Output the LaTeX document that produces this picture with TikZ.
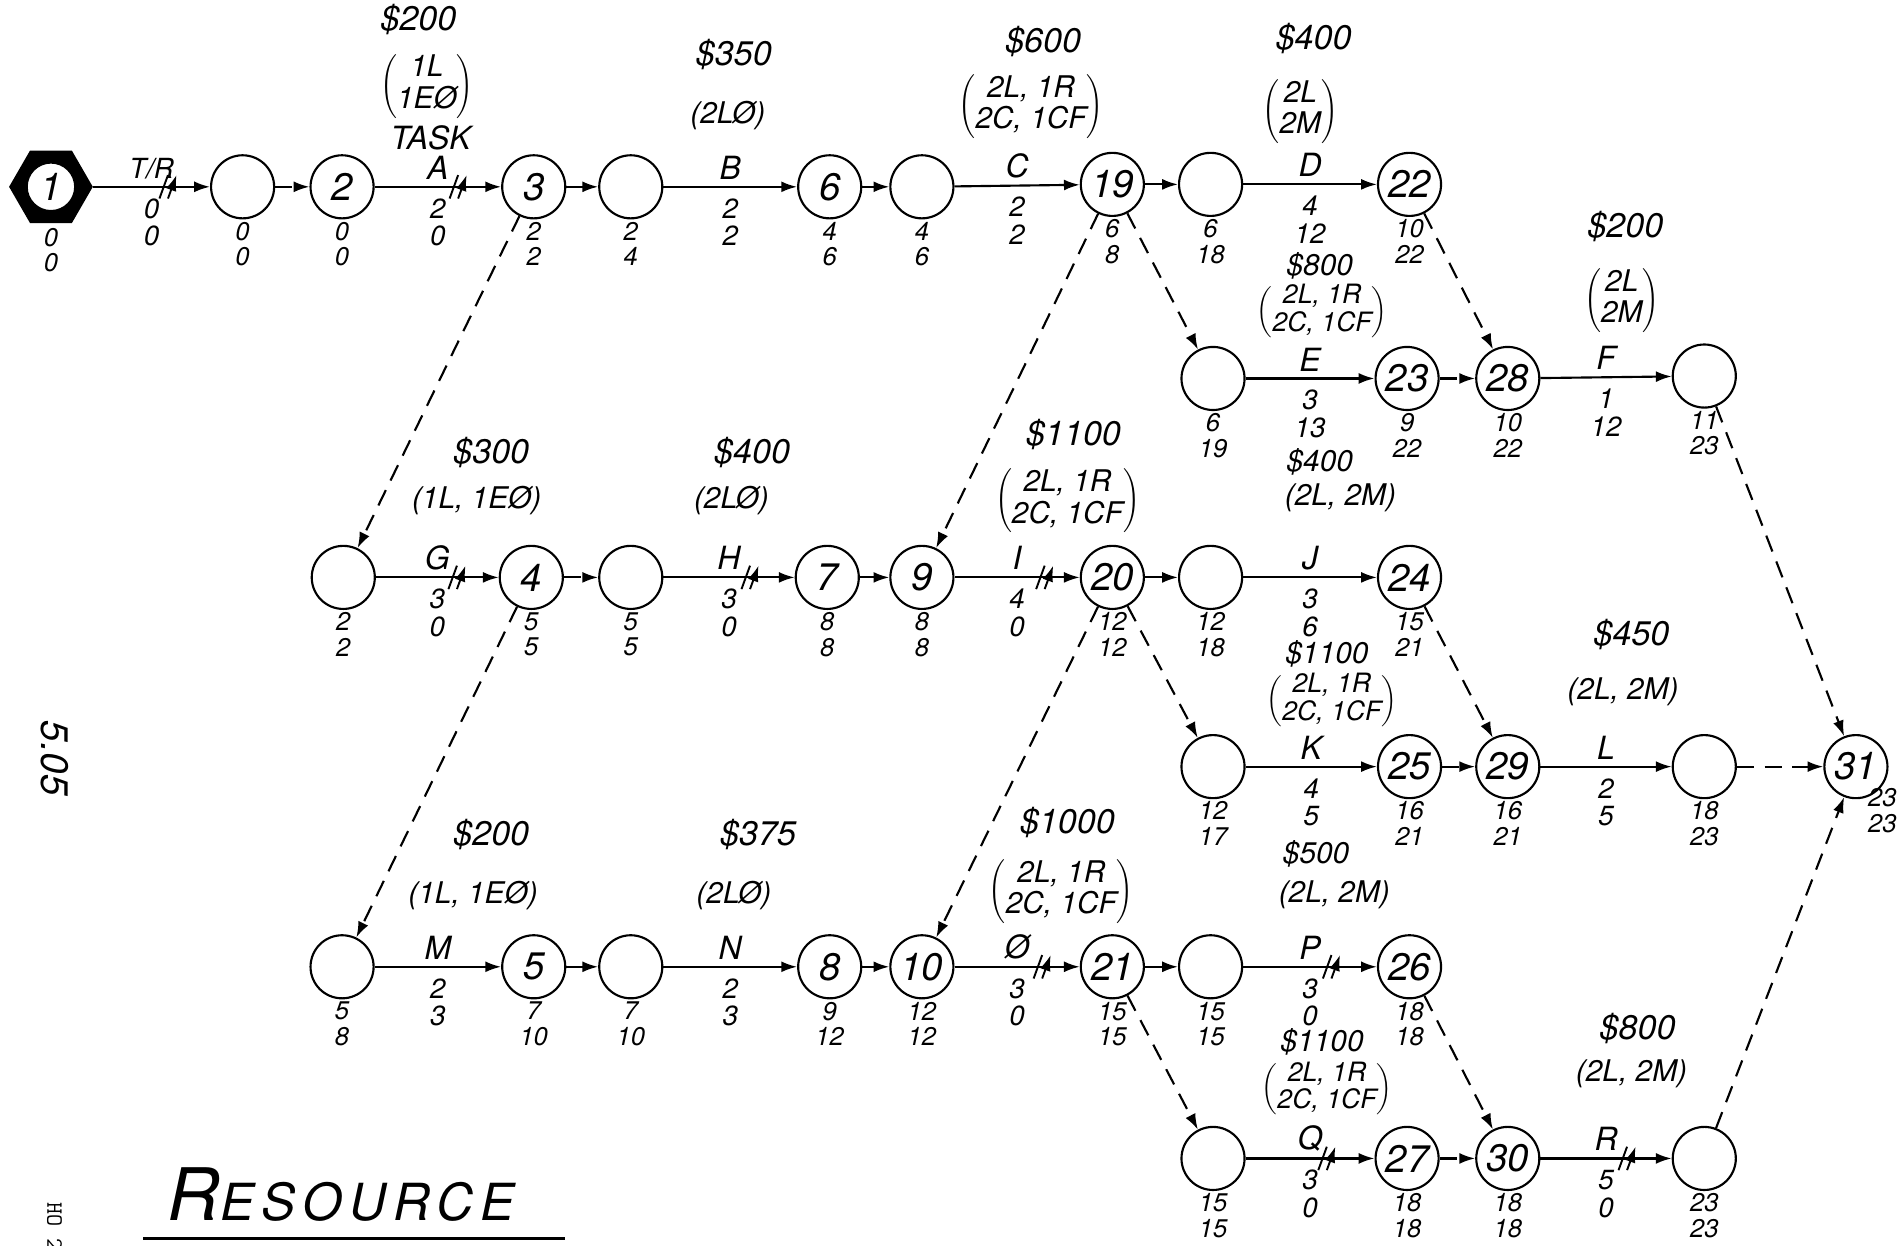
\documentclass[tikz,border=0pt]{standalone}
\usepackage{fontspec}
\setmainfont{TeX Gyre Heros}
\usetikzlibrary{arrows.meta,positioning,shapes.geometric,decorations.markings}
\tikzset{
  >={Latex[length=2.6mm,width=1.8mm]},
  evt/.style={circle,draw,line width=1pt,minimum size=10.4mm,inner sep=0pt,
    font=\fontsize{18}{18}\selectfont\itshape},
  hexa/.style={regular polygon,regular polygon sides=6,fill=black,minimum size=13.8mm,inner sep=0pt},
  act/.style={->,line width=1pt},
  dummy/.style={->,line width=1pt,dash pattern=on 8pt off 5pt},
  crit/.style={postaction={decorate,decoration={markings,mark=at position #1 with {
    \draw[line width=0.9pt,solid] (-4pt,-5.5pt) -- (0pt,5.5pt) (0pt,-5.5pt) -- (4pt,5.5pt);}}}},
  crit/.default=0.66,
  num/.style={font=\fontsize{12}{12}\selectfont\itshape,align=center,inner sep=1pt},
  job/.style={font=\fontsize{15}{15}\selectfont\itshape,inner sep=1pt},
  dur/.style={font=\fontsize{13}{13}\selectfont\itshape,align=center,inner sep=1pt},
  res/.style={font=\fontsize{14}{14}\selectfont\itshape,align=center,inner sep=0pt},
  small res/.style={res,font=\fontsize{12.5}{12.5}\selectfont\itshape},
  cost/.style={font=\fontsize{16}{16}\selectfont\itshape,inner sep=1pt},
  small cost/.style={cost,font=\fontsize{14}{14}\selectfont\itshape},
}
\newcommand\pair[2]{$\left(\begin{tabular}{@{}c@{}}#1\\#2\end{tabular}\right)$}

\begin{document}
\begin{tikzpicture}[x=0.2mm,y=-0.2mm]
\useasboundingbox (0,0) rectangle (1568,1027);
% events
\node[hexa] (hx) at (42,154) {};
\node[evt,fill=white,minimum size=8mm] (n1) at (42,154) {1};
\foreach \n/\x/\y/\t in {vTR/200/154/{},n2/282/154/2,n3/440/154/3,vB/520/154/{},n6/684/154/6,
  vC/760/154/{},n19/917/152/19,vD/998/152/{},n22/1162/152/22,
  vE/1000/312/{},n23/1160/312/23,n28/1243/312/28,vF/1405/310/{},
  vG/283/476/{},n4/438/476/4,vH/520/476/{},n7/682/476/7,n9/760/476/9,n20/917/476/20,
  vJ/998/476/{},n24/1162/476/24,
  vK/1000/632/{},n25/1162/632/25,n29/1243/632/29,vL/1405/632/{},n31/1530/632/31,
  vM/282/797/{},n5/440/797/5,vN/520/797/{},n8/684/797/8,n10/760/797/10,n21/917/797/21,
  vP/998/797/{},n26/1162/797/26,
  vQ/1000/955/{},n27/1160/955/27,n30/1243/955/30,vR/1405/955/{}}
  \node[evt] (\n) at (\x,\y) {\t};
% early / late times
\node[num,below=1pt of hx] (n1t) {0\\0};
\foreach \n/\es/\ls in {vTR/0/0,n2/0/0,n3/2/2,vB/2/4,n6/4/6,vC/4/6,n19/6/8,vD/6/18,n22/10/22,
  vE/6/19,n23/9/22,n28/10/22,vF/11/23,
  vG/2/2,n4/5/5,vH/5/5,n7/8/8,n9/8/8,n20/12/12,vJ/12/18,n24/15/21,
  vK/12/17,n25/16/21,n29/16/21,vL/18/23,
  vM/5/8,n5/7/10,vN/7/10,n8/9/12,n10/12/12,n21/15/15,vP/15/15,n26/18/18,
  vQ/15/15,n27/18/18,n30/18/18,vR/23/23}
  \node[num,below=0pt of \n] (\n t) {\es\\\ls};
\node[num,anchor=north west] (n31t) at (1538,648) {23\\23};

% activities
\draw[act,crit=0.64] (hx) -- node[job,above=2pt,font=\fontsize{13}{13}\selectfont\itshape] (lTR) {T/R} node[dur,below=4pt] (dTR) {0\\0} (vTR);
\draw[dummy] (vTR) -- (n2);
\draw[act,crit] (n2) -- node[job,above=2pt] (lA) {A} node[dur,below=4pt] (dA) {2\\0} (n3);
\draw[dummy] (n3) -- (vB);
\draw[act] (vB) -- node[job,above=2pt] (lB) {B} node[dur,below=4pt] (dB) {2\\2} (n6);
\draw[dummy] (n6) -- (vC);
\draw[act] (vC) -- node[job,above=2pt] (lC) {C} node[dur,below=4pt] (dC) {2\\2} (n19);
\draw[dummy] (n19) -- (vD);
\draw[act] (vD) -- node[job,above=2pt] (lD) {D} node[dur,below=4pt] (dD) {4\\12} (n22);

\draw[act] (vE) -- node[job,above=2pt] (lE) {E} node[dur,below=4pt] (dE) {3\\13} (n23);
\draw[dummy] (n23) -- (n28);
\draw[act] (n28) -- node[job,above=2pt] (lF) {F} node[dur,below=4pt] (dF) {1\\12} (vF);

\draw[act,crit] (vG) -- node[job,above=2pt] (lG) {G} node[dur,below=4pt] (dG) {3\\0} (n4);
\draw[dummy] (n4) -- (vH);
\draw[act,crit] (vH) -- node[job,above=2pt] (lH) {H} node[dur,below=4pt] (dH) {3\\0} (n7);
\draw[dummy] (n7) -- (n9);
\draw[act,crit=0.72] (n9) -- node[job,above=2pt] (lI) {I} node[dur,below=4pt] (dI) {4\\0} (n20);
\draw[dummy] (n20) -- (vJ);
\draw[act] (vJ) -- node[job,above=2pt] (lJ) {J} node[dur,below=4pt] (dJ) {3\\6} (n24);

\draw[act] (vK) -- node[job,above=2pt] (lK) {K} node[dur,below=4pt] (dK) {4\\5} (n25);
\draw[dummy] (n25) -- (n29);
\draw[act] (n29) -- node[job,above=2pt] (lL) {L} node[dur,below=4pt] (dL) {2\\5} (vL);
\draw[dummy] (vL) -- (n31);

\draw[act] (vM) -- node[job,above=2pt] (lM) {M} node[dur,below=4pt] (dM) {2\\3} (n5);
\draw[dummy] (n5) -- (vN);
\draw[act] (vN) -- node[job,above=2pt] (lN) {N} node[dur,below=4pt] (dN) {2\\3} (n8);
\draw[dummy] (n8) -- (n10);
\draw[act,crit=0.7] (n10) -- node[job,above=2pt] (lO) {Ø} node[dur,below=4pt] (dO) {3\\0} (n21);
\draw[act] (n21) -- (vP);
\draw[act,crit] (vP) -- node[job,above=2pt] (lP) {P} node[dur,below=4pt] (dP) {3\\0} (n26);

\draw[act,crit=0.63] (vQ) -- node[job,above=2pt] (lQ) {Q} node[dur,below=4pt] (dQ) {3\\0} (n27);
\draw[dummy] (n27) -- (n30);
\draw[act,crit] (n30) -- node[job,above=2pt] (lR) {R} node[dur,below=4pt] (dR) {5\\0} (vR);

% dummies across rows
\draw[dummy] (n3) -- (vG);
\draw[dummy] (n4) -- (vM);
\draw[dummy] (n19) -- (n9);
\draw[dummy] (n19) -- (vE);
\draw[dummy] (n20) -- (n10);
\draw[dummy] (n20) -- (vK);
\draw[dummy] (n21) -- (vQ);
\draw[dummy] (n22) -- (n28);
\draw[dummy] (n24) -- (n29);
\draw[dummy] (n26) -- (n30);
\draw[dummy] (vF) -- (n31);
\draw[dummy] (vR) -- (n31);

% resources and costs
\node[job] (task) at (355,114) {TASK};
\node[res] (rA) at (352,71) {\pair{1L}{1EØ}};
\node[cost] (cA) at (345,16) {\$200};
\node[res] (rB) at (600,95) {(2LØ)};
\node[cost] (cB) at (605,45) {\$350};
\node[res] (rC) at (850,88) {\pair{2L, 1R}{2C, 1CF}};
\node[cost] (cC) at (860,34) {\$600};
\node[res] (rD) at (1072,92) {\pair{2L}{2M}};
\node[cost] (cD) at (1083,32) {\$400};
\node[small res] (rE) at (1090,257) {\pair{2L, 1R}{2C, 1CF}};
\node[small cost] (cE) at (1088,219) {\$800};
\node[res] (rF) at (1337,248) {\pair{2L}{2M}};
\node[cost] (cF) at (1340,187) {\$200};
\node[res] (rG) at (393,413) {(1L, 1EØ)};
\node[cost] (cG) at (405,373) {\$300};
\node[res] (rH) at (603,413) {(2LØ)};
\node[cost] (cH) at (620,373) {\$400};
\node[res] (rI) at (880,413) {\pair{2L, 1R}{2C, 1CF}};
\node[cost] (cI) at (885,358) {\$1100};
\node[res] (rJ) at (1105,410) {(2L, 2M)};
\node[small cost] (cJ) at (1088,381) {\$400};
\node[small res] (rK) at (1098,578) {\pair{2L, 1R}{2C, 1CF}};
\node[small cost] (cK) at (1094,539) {\$1100};
\node[res] (rL) at (1338,570) {(2L, 2M)};
\node[cost] (cL) at (1345,523) {\$450};
\node[res] (rM) at (390,738) {(1L, 1EØ)};
\node[cost] (cM) at (405,688) {\$200};
\node[res] (rN) at (605,738) {(2LØ)};
\node[cost] (cN) at (625,688) {\$375};
\node[res] (rO) at (875,735) {\pair{2L, 1R}{2C, 1CF}};
\node[cost] (cO) at (880,678) {\$1000};
\node[res] (rP) at (1100,738) {(2L, 2M)};
\node[small cost] (cP) at (1085,704) {\$500};
\node[small res] (rQ) at (1094,898) {\pair{2L, 1R}{2C, 1CF}};
\node[small cost] (cQ) at (1090,859) {\$1100};
\node[res] (rR) at (1345,885) {(2L, 2M)};
\node[cost] (cR) at (1350,848) {\$800};

% margin notes and title
\node[font=\fontsize{18}{18}\selectfont\itshape,rotate=-90] (page) at (45,625) {5.05};
\node[font=\fontsize{11}{11}\selectfont\ttfamily,rotate=-90,anchor=west] (ho) at (45,985) {HO 24};
\node[font=\itshape,anchor=base west,inner sep=0pt] (title) at (138,1006)
  {{\fontsize{34}{34}\selectfont R}{\fontsize{24}{24}\selectfont\addfontfeature{LetterSpace=14}ESOURCE}};
\coordinate (ul1) at (118,1021);
\coordinate (ul2) at (466,1021);
\draw[line width=1.6pt] (ul1) -- (ul2);
\end{tikzpicture}
\end{document}
